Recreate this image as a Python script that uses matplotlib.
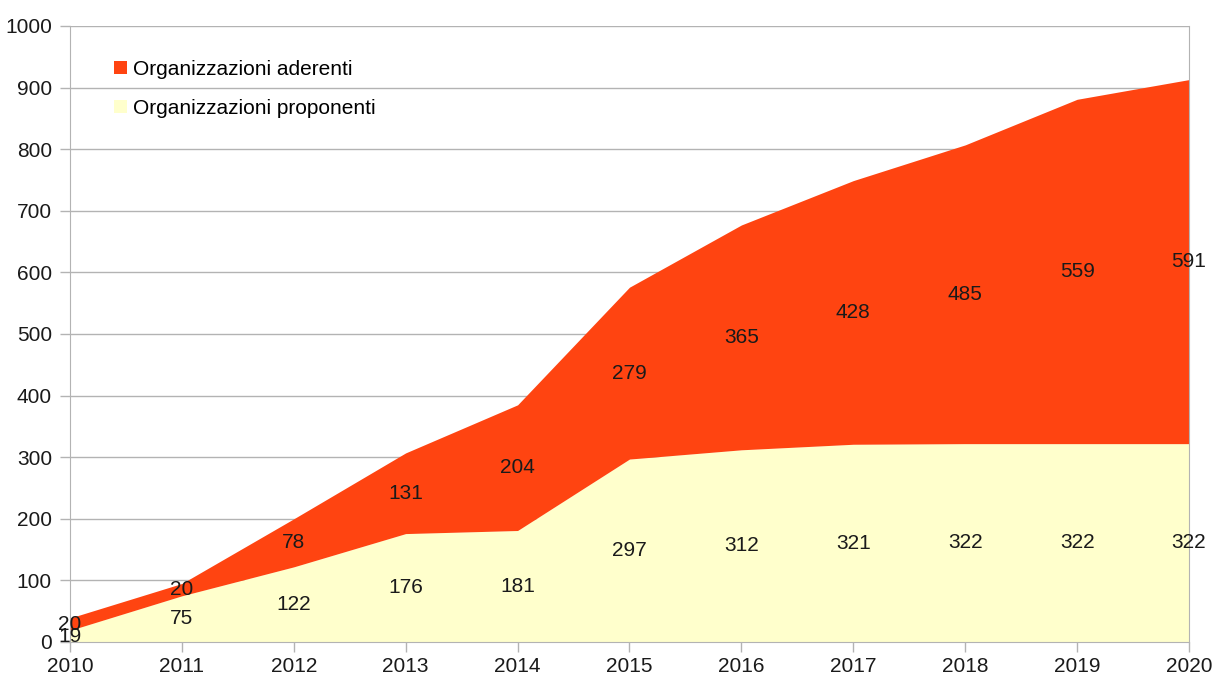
import numpy as np
import matplotlib.pyplot as plt
from matplotlib.patches import Patch

years = [2010, 2011, 2012, 2013, 2014, 2015, 2016, 2017, 2018, 2019, 2020]
proponenti = [19, 75, 122, 176, 181, 297, 312, 321, 322, 322, 322]
aderenti = [20, 20, 78, 131, 204, 279, 365, 428, 485, 559, 591]

col_ader = '#ff4411'
col_prop = '#ffffcc'

plt.rcParams['font.family'] = ['Liberation Sans', 'DejaVu Sans']
fs = 15

fig = plt.figure(figsize=(12.15, 6.77), dpi=100)
ax = fig.add_axes([0.0576, 0.0517, 0.9210, 0.9099])

prop = np.array(proponenti)
ader = np.array(aderenti)
ax.fill_between(years, 0, prop, color=col_prop, lw=0, zorder=2)
ax.fill_between(years, prop, prop + ader, color=col_ader, lw=0, zorder=2)

# etichette al centro di ogni fascia
for x, p, a in zip(years, prop, ader):
    ax.text(x, p / 2, str(p), ha='center', va='center', fontsize=fs, color='#1a1a1a', zorder=3)
    ax.text(x, p + a / 2, str(a), ha='center', va='center', fontsize=fs, color='#1a1a1a', zorder=3)

ax.set_xlim(2010, 2020)
ax.set_ylim(0, 1000)
ax.set_xticks(years)
ax.set_yticks(range(0, 1001, 100))
ax.grid(axis='y', color='#b3b3b3', lw=1, zorder=1)
ax.spines['top'].set_visible(False)
for s in ['left', 'right', 'bottom']:
    ax.spines[s].set_color('#b3b3b3')
ax.tick_params(axis='both', colors='#b3b3b3', labelcolor='#1a1a1a', labelsize=fs, length=7, width=1)
ax.tick_params(axis='x', pad=4)
ax.tick_params(axis='y', pad=6)

handles = [Patch(facecolor=col_ader, label='Organizzazioni aderenti'),
           Patch(facecolor=col_prop, label='Organizzazioni proponenti')]
ax.legend(handles=handles, loc='upper left', bbox_to_anchor=(0.032, 0.958), frameon=False,
          fontsize=fs, handlelength=0.6, handleheight=0.6, handletextpad=0.3, labelspacing=0.95,
          borderaxespad=0)

fig.savefig('out.png', dpi=100)
